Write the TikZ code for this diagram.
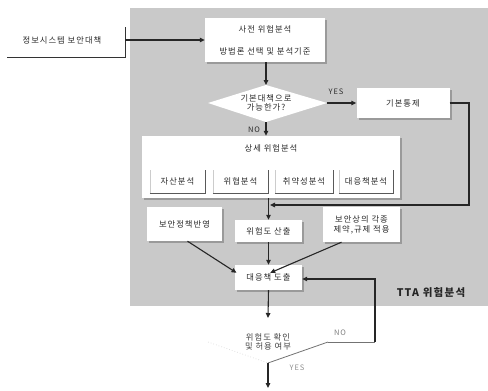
\documentclass[tikz,border=0pt]{standalone}
\usepackage{fontspec}
\setmainfont{Noto Sans CJK KR}[LetterSpace=12]
\usetikzlibrary{arrows.meta,shadows}
\definecolor{bggray}{HTML}{C9C9C9}
\definecolor{txt}{HTML}{2A2A2A}
\definecolor{shd}{HTML}{9A9A9A}
\tikzset{
  every node/.style={text=txt, font=\fontsize{8.3}{10}\selectfont, inner sep=0pt},
  wbox/.style={draw=none, fill=white, align=center,
    drop shadow={shadow xshift=2pt, shadow yshift=-2pt, fill=shd, opacity=1}},
  ibox/.style={fill=white, align=center},
  conn/.style={line width=1.1pt, draw=black!85, -{Triangle[length=5pt,width=4.5pt]}},
  lbl/.style={font=\fontsize{7.5}{8}\selectfont},
}
\begin{document}
\begin{tikzpicture}[x=1pt,y=-1pt]
\useasboundingbox (0,0) rectangle (488,391);
\fill[bggray] (130,8) rectangle (488,306);

% left input
\node (src) at (62,40) {정보시스템 보안대책};
\coordinate (srcA) at (7,57);
\coordinate (srcB) at (125,57);
\coordinate (srcC) at (125,27);
\coordinate (srcO) at (125,40);
\draw[line width=0.9pt, black!80] (srcA) -- (srcB) -- (srcC);

% box 1
\node[wbox, minimum width=120pt, minimum height=44pt] (pre) at (265,40) {};
\node (preT) at (265,29) {사전 위험분석};
\node (preB) at (265,51) {방법론 선택 및 분석기준};
\draw[conn] (srcO) -- (pre.west);

% diamond 1
\coordinate (d1l) at (208,103);
\coordinate (d1t) at (266,85);
\coordinate (d1r) at (327,103);
\coordinate (d1b) at (266,122);
\fill[white] (d1l) -- (d1t) -- (d1r) -- (d1b) -- cycle;
\node[align=center] (d1) at (266,103) {기본대책으로\\[-1pt]가능한가?};
\draw[conn] (pre.south -| d1t) -- (d1t);

% basic control
\node[wbox, minimum width=93pt, minimum height=30pt] (basic) at (403,103) {기본통제};
\draw[conn] (d1r) -- (basic.west);
\node[lbl] (yes1) at (336,92) {YES};

% detailed analysis
\node[wbox, minimum width=258pt, minimum height=62pt] (det) at (271,167) {};
\node (detT) at (271,148) {상세 위험분석};
\node[lbl] (nol) at (254,130) {NO};
\draw[conn] (d1b) -- (d1b |- det.north);

\node[ibox, minimum width=55pt, minimum height=23pt] (a1) at (177.5,181.5) {자산분석};
\node[ibox, minimum width=55pt, minimum height=23pt] (a2) at (240.5,181.5) {위협분석};
\node[ibox, minimum width=58pt, minimum height=23pt] (a3) at (304,181.5) {취약성분석};
\node[ibox, minimum width=54pt, minimum height=23pt] (a4) at (366,181.5) {대응책분석};
\foreach \n in {a1,a2,a3,a4}{
  \draw[line width=0.8pt, black!65] (\n.south west) -- (\n.south east) -- (\n.north east);
  \draw[line width=0.4pt, black!20] (\n.south west) -- (\n.north west);
}

% second row
\node[wbox, minimum width=75pt, minimum height=34pt] (pol) at (184.5,224) {보안정책반영};
\node[wbox, minimum width=67pt, minimum height=22pt] (risk) at (268.5,231) {위험도 산출};
\node[wbox, minimum width=77pt, minimum height=35pt, align=center] (cons) at (361.5,224.5) {보안상의 각종\\[0pt]제약,규제 적용};

\coordinate (detO) at (268.5,198);
\draw[conn] (detO) -- (risk.north);

% feedback from basic control
\coordinate (bk1) at (469,103);
\coordinate (bk2) at (469,205);
\coordinate (bk3) at (270,205);
\draw[conn] (basic.east) -- (bk1) -- (bk2) -- (bk3);

% countermeasure
\node[wbox, minimum width=67pt, minimum height=25pt] (cm) at (268.5,277.5) {대응책 도출};
\draw[conn] ([xshift=3pt]pol.south) -- ([xshift=-32pt,yshift=-8pt]cm.north);
\draw[conn] (risk.south) -- (cm.north);
\draw[conn] ([xshift=-20pt]cons.south) -- ([xshift=-32pt,yshift=-8pt]cm.north east);

\node[font=\bfseries\fontsize{10.5}{12}\selectfont, text=black!85] (tta) at (431,293) {TTA 위험분석};

% diamond 2
\coordinate (d2l) at (208,342);
\coordinate (d2t) at (268,321);
\coordinate (d2r) at (328,342);
\coordinate (d2b) at (268,363);
\draw[line width=0.8pt, black!12, dotted] (d2l) -- (d2b);
\draw[line width=0.8pt, black!55] (d2b) -- (d2r);
\node[align=center, text=black!75] (d2) at (268,342) {위험도 확인\\[-1pt]및 허용 여부};
\draw[conn] (cm.south) -- (268,318);
\coordinate (nb1) at (375,342);
\coordinate (nb2) at (375,279);
\draw[line width=0.8pt, black!55] (d2r) -- (nb1);
\draw[conn] (nb1) -- (nb2) -- (cm.east |- nb2);
\node[lbl, text=black!50] (no2) at (340,333) {NO};
\node[lbl, text=black!45] (yes2) at (297,368) {YES};
\coordinate (endp) at (268,388);
\draw[conn] (d2b) -- (endp);
\end{tikzpicture}
\end{document}
